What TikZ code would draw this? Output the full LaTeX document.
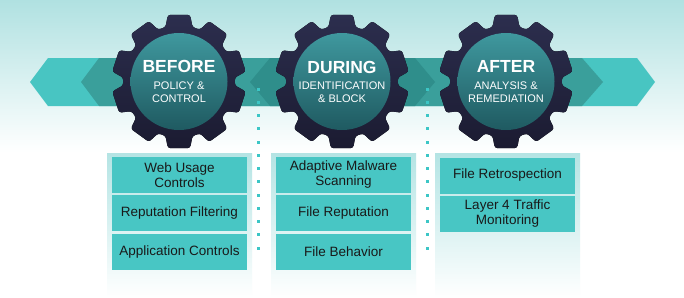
\documentclass[tikz,border=0pt]{standalone}
\usepackage{fontspec}
\setmainfont{Liberation Sans}
\usepackage{xcolor}
\usepackage{tikz}
\usetikzlibrary{calc, positioning}

\definecolor{bgteal}{HTML}{B0E1E1}
\definecolor{bandlight}{HTML}{48C5C2}
\definecolor{bandmid}{HTML}{3A9F9B}
\definecolor{banddark}{HTML}{2F8E8B}
\definecolor{geartop}{HTML}{2C2E4E}
\definecolor{gearbot}{HTML}{1B1B31}
\definecolor{hubtop}{HTML}{3F989E}
\definecolor{hubbot}{HTML}{1F5A61}
\definecolor{boxteal}{HTML}{48C6C4}
\definecolor{panelteal}{HTML}{B4E4E4}
\definecolor{dotteal}{HTML}{3CC6C6}

\tikzset{
  hub/.style={circle, minimum size=97pt, inner sep=0pt, top color=hubtop, bottom color=hubbot,
    text=white, align=center, font=\fontsize{11}{13}\selectfont},
  itembox/.style={fill=boxteal, minimum width=135pt, minimum height=36pt, inner sep=0pt,
    align=center, text=black!90, font=\fontsize{13.5}{15}\selectfont},
}
\newcommand{\hubtitle}[1]{{\fontsize{17.5}{17.5}\selectfont\bfseries #1}}

\begin{document}
\begin{tikzpicture}[x=1pt, y=-1pt]
    \useasboundingbox (0,0) rectangle (684,297);
    % Background
    \fill[white] (0,0) rectangle (684,297);
    \shade[top color=bgteal, bottom color=white] (0,0) rectangle (684,152);
    % Band
    \fill[bandlight] (30,82) -- (48,58) -- (637,58) -- (655,82) -- (637,106) -- (48,106) -- cycle;
    \fill[bandmid] (81,82) -- (99,58) -- (582,58) -- (603,82) -- (582,106) -- (99,106) -- cycle;
    \fill[banddark] (250,82) -- (270,58) -- (415,58) -- (435,82) -- (415,106) -- (270,106) -- cycle;
    % Panels
    \foreach \x in {107,271,435}
        \shade[top color=panelteal, bottom color=white] (\x,153) rectangle ++(145,144);
    % Separators
    \foreach \i in {0,...,12} {
        \fill[dotteal] (256.5,87.5+13.27*\i) rectangle ++(3,3);
        \fill[dotteal] (425.5,87.5+13.27*\i) rectangle ++(3,3);
    }
    % Gears
    \coordinate (gb) at (179,81.5);
    \coordinate (gd) at (342,81.5);
    \coordinate (ga) at (506,81.5);
    \foreach \g in {gb,gd,ga}
        \fill[top color=geartop, bottom color=gearbot, rounded corners=2.5pt]
            ($(\g)+(72:56)$) \foreach \a in {90,126,...,414} {
                -- ($(\g)+(\a-14:56)$) -- ($(\g)+(\a-9.5:67.5)$) -- ($(\g)+(\a+9.5:67.5)$) -- ($(\g)+(\a+14:56)$)
            } -- cycle;
    \node[hub] (before) at (gb) {\hubtitle{BEFORE}\\[4pt]POLICY \&\\CONTROL};
    \node[hub] (during) at (gd) {\hubtitle{DURING}\\[3pt]IDENTIFICATION\\\& BLOCK};
    \node[hub] (after) at (ga) {\hubtitle{AFTER}\\[4pt]ANALYSIS \&\\REMEDIATION};
    % Before items
    \node[itembox] (web) at (179.5,175) {Web Usage\\Controls};
    \node[itembox, below=2pt of web] (repfilter) {Reputation Filtering};
    \node[itembox, below=2pt of repfilter] (appctrl) {Application Controls};
    % During items
    \node[itembox] (malware) at (343.5,175) {Adaptive Malware\\Scanning};
    \node[itembox, below=2pt of malware] (filerep) {File Reputation};
    \node[itembox, below=2pt of filerep] (filebeh) {File Behavior};
    % After items
    \node[itembox] (retro) at (507.5,175.5) {File Retrospection};
    \node[itembox, below=2pt of retro] (layer4) {Layer 4 Traffic\\Monitoring};
\end{tikzpicture}
\end{document}
